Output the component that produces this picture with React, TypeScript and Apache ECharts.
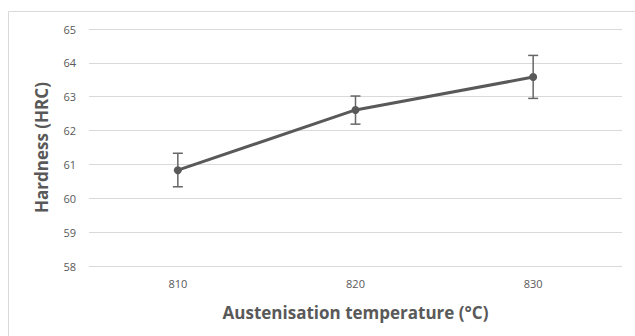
import React, { useEffect, useRef } from "react";
import * as echarts from "echarts";

const categories = ["810", "820", "830"];
const hardness = [60.83, 62.61, 63.58];
const errLow = [60.34, 62.19, 62.95];
const errHigh = [61.33, 63.02, 64.22];

export default function App() {
  const ref = useRef<HTMLDivElement>(null);
  useEffect(() => {
    const chart = echarts.init(ref.current!, null, { renderer: "svg" });
    const errData = categories.map((_, i) => [i, errLow[i], errHigh[i]]);
    chart.setOption({
      animation: false,
      backgroundColor: "#ffffff",
      textStyle: { fontFamily: "Open Sans" },
      graphic: [
        {
          type: "rect",
          shape: { x: 8.5, y: 11.5, width: 640, height: 340 },
          style: { fill: "none", stroke: "#d9d9d9", lineWidth: 1 },
          silent: true,
        },
      ],
      grid: { left: 89, right: 13, top: 29, bottom: 70 },
      xAxis: {
        type: "category",
        data: categories,
        boundaryGap: true,
        axisLine: { show: false },
        axisTick: { show: false },
        axisLabel: { color: "#595959", fontSize: 11, margin: 12, fontFamily: "Open Sans" },
        name: "Austenisation temperature (°C)",
        nameLocation: "middle",
        nameGap: 38,
        nameTextStyle: { fontSize: 17, fontWeight: "bold", color: "#595959", fontFamily: "Open Sans" },
      },
      yAxis: {
        type: "value",
        min: 58,
        max: 65,
        interval: 1,
        axisLine: { show: false },
        axisTick: { show: false },
        axisLabel: { color: "#595959", fontSize: 11, margin: 13, fontFamily: "Open Sans" },
        splitLine: { lineStyle: { color: "#d9d9d9", width: 1 } },
        name: "Hardness (HRC)",
        nameLocation: "middle",
        nameGap: 39,
        nameTextStyle: { fontSize: 17, fontWeight: "bold", color: "#595959", fontFamily: "Open Sans" },
      },
      series: [
        {
          type: "line",
          data: hardness,
          symbol: "circle",
          symbolSize: 8,
          lineStyle: { color: "#595959", width: 3 },
          itemStyle: { color: "#595959" },
          z: 3,
        },
        {
          type: "custom",
          data: errData,
          z: 2,
          renderItem: (params: any, api: any) => {
            const idx = api.value(0);
            const lo = api.coord([idx, api.value(1)]);
            const hi = api.coord([idx, api.value(2)]);
            const hw = 5;
            const style = { stroke: "#666666", lineWidth: 1.5 };
            return {
              type: "group",
              children: [
                { type: "line", shape: { x1: lo[0], y1: lo[1], x2: hi[0], y2: hi[1] }, style },
                { type: "line", shape: { x1: hi[0] - hw, y1: hi[1], x2: hi[0] + hw, y2: hi[1] }, style },
                { type: "line", shape: { x1: lo[0] - hw, y1: lo[1], x2: lo[0] + hw, y2: lo[1] }, style },
              ],
            };
          },
        },
      ],
    });
    return () => chart.dispose();
  }, []);
  return (
    <div
      ref={ref}
      style={{ position: "fixed", left: 0, top: 0, width: 635, height: 336 }}
    />
  );
}
